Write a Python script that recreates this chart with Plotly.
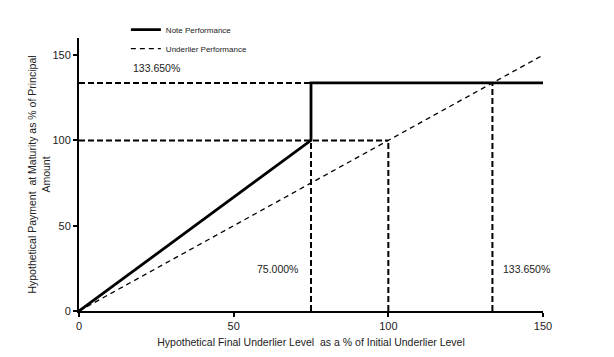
import plotly.graph_objects as go

# Data
note_x = [0, 75, 75, 150]
note_y = [0, 100, 133.65, 133.65]
under_x = [0, 150]
under_y = [0, 150]
guide_h = [(0, 133.65, 133.65), (0, 100, 100)]  # (x0, x1, y)
guide_v = [(75, 0, 100), (100, 0, 100), (133.65, 0, 133.65)]  # (x, y0, y1)
x_ticks = [0, 50, 100, 150]
y_ticks = [0, 50, 100, 150]
labels = [("133.650%", 24.9, 142.4), ("75.000%", 64.3, 24.6), ("133.650%", 144.8, 24.6)]

font = "Liberation Sans, Arial, sans-serif"
fig = go.Figure()

for (x0, x1, y) in guide_h:
    fig.add_trace(go.Scatter(x=[x0, x1], y=[y, y], mode="lines",
                             line=dict(color="black", width=2, dash="6px,3px"),
                             showlegend=False, hoverinfo="skip"))
for (x, y0, y1) in guide_v:
    fig.add_trace(go.Scatter(x=[x, x], y=[y0, y1], mode="lines",
                             line=dict(color="black", width=2, dash="6px,3px"),
                             showlegend=False, hoverinfo="skip"))

fig.add_trace(go.Scatter(x=note_x, y=note_y, mode="lines", name="Note Performance",
                         line=dict(color="black", width=2.8)))
fig.add_trace(go.Scatter(x=under_x, y=under_y, mode="lines", name="Underlier Performance",
                         line=dict(color="black", width=1.3, dash="5px,4px")))

for (t, x, y) in labels:
    fig.add_annotation(x=x, y=y, text=t, showarrow=False, xref="x", yref="y",
                       font=dict(size=10.5, color="#222", family=font))

# page body has an 8px default margin, so the figure is 8px smaller
fig.update_layout(
    width=606, height=349,
    margin=dict(l=71, r=71, t=30, b=46, autoexpand=False),
    paper_bgcolor="white", plot_bgcolor="white",
    font=dict(family=font, size=11, color="#222"),
    showlegend=True,
    legend=dict(x=0.101, y=1.084, xanchor="left", yanchor="top",
                font=dict(size=8, family=font), bgcolor="rgba(0,0,0,0)",
                tracegroupgap=0, itemwidth=30),
    xaxis=dict(range=[0, 150], tickvals=x_ticks, showgrid=False, zeroline=False,
               showline=True, linecolor="black", linewidth=2, ticks="outside",
               ticklen=4, tickwidth=1.5, tickcolor="black", automargin=False,
               title=dict(text="Hypothetical Final Underlier Level  as a % of Initial Underlier Level",
                          font=dict(size=10.5), standoff=7)),
    yaxis=dict(range=[0, 160], tickvals=y_ticks, showgrid=False, zeroline=False,
               showline=True, linecolor="black", linewidth=2, ticks="outside",
               ticklen=4, tickwidth=1.5, tickcolor="black", automargin=False,
               title=dict(text="Hypothetical Payment  at Maturity as % of Principal<br>Amount",
                          font=dict(size=10.5), standoff=0)),
)

fig.write_html("out.html")
